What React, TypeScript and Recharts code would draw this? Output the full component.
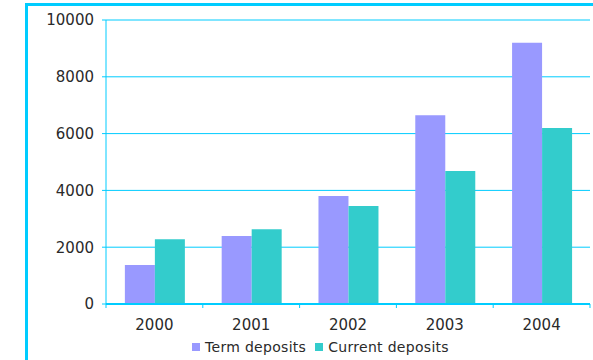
import React from 'react';
import { BarChart, Bar, XAxis, YAxis, CartesianGrid } from 'recharts';

const years = ['2000', '2001', '2002', '2003', '2004'];
const termDeposits = [1370, 2390, 3800, 6650, 9200];
const currentDeposits = [2280, 2630, 3450, 4680, 6200];
const yTicks = [0, 2000, 4000, 6000, 8000, 10000];

const seriesNames = ['Term deposits', 'Current deposits'];
const seriesColors = ['#9999FF', '#33CCCC'];

const CYAN = '#00CCFF';
const FONT = '"DejaVu Sans", Verdana, sans-serif';

const data = years.map((year, i) => ({
  year,
  term: termDeposits[i],
  current: currentDeposits[i],
}));

// x tick: label in the middle, tick marks on category boundaries
const XTick = (props: any) => {
  const { x, y, payload, index, width, visibleTicksCount } = props;
  const half = width && visibleTicksCount ? width / visibleTicksCount / 2 : payload.offset || 0;
  return (
    <g>
      <line x1={x - half} x2={x - half} y1={y} y2={y + 4} stroke={CYAN} strokeWidth={1} />
      {index === visibleTicksCount - 1 && (
        <line x1={x + half} x2={x + half} y1={y} y2={y + 4} stroke={CYAN} strokeWidth={1} />
      )}
      <text x={x} y={y + 26} textAnchor="middle" fill="#2a2a2a" fontSize={15} fontFamily={FONT}>
        {payload.value}
      </text>
    </g>
  );
};

export default function App() {
  return (
    <div
      style={{
        position: 'absolute',
        left: 0,
        top: 0,
        width: 593,
        height: 360,
        overflow: 'hidden',
        background: '#fff',
      }}
    >
      {/* outer frame */}
      <div
        style={{
          position: 'absolute',
          left: 25,
          top: 3,
          width: 700,
          height: 500,
          border: `3px solid ${CYAN}`,
          boxSizing: 'border-box',
        }}
      />
      <div style={{ position: 'absolute', left: 0, top: 0 }}>
        <BarChart
          width={593}
          height={360}
          data={data}
          margin={{ top: 20, right: 3, left: 0, bottom: 0 }}
          barCategoryGap="19.5%"
          barGap={0}
        >
          <CartesianGrid vertical={false} stroke={CYAN} strokeWidth={1} />
          <XAxis
            dataKey="year"
            height={56}
            axisLine={{ stroke: CYAN, strokeWidth: 2 }}
            tickLine={false}
            tickSize={0}
            tickMargin={0}
            interval={0}
            tick={<XTick />}
          />
          <YAxis
            width={106}
            domain={[0, 10000]}
            ticks={yTicks}
            interval={0}
            axisLine={{ stroke: CYAN }}
            tickLine={{ stroke: CYAN }}
            tickSize={4}
            tickMargin={8}
            tick={{ fill: '#2a2a2a', fontSize: 15, fontFamily: FONT }}
          />
          <YAxis
            yAxisId="right"
            orientation="right"
            width={0}
            tick={false}
            tickLine={false}
            axisLine={{ stroke: CYAN }}
          />
          <Bar dataKey="term" name={seriesNames[0]} fill={seriesColors[0]} isAnimationActive={false} />
          <Bar dataKey="current" name={seriesNames[1]} fill={seriesColors[1]} isAnimationActive={false} />
        </BarChart>
      </div>
      {/* legend */}
      <div
        style={{
          position: 'absolute',
          left: 192,
          top: 339,
          display: 'flex',
          alignItems: 'center',
          fontFamily: FONT,
          fontSize: 14,
          letterSpacing: 0.3,
          color: '#2a2a2a',
          whiteSpace: 'nowrap',
        }}
      >
        {seriesNames.map((name, i) => (
          <div key={name} style={{ display: 'flex', alignItems: 'center', marginRight: 9 }}>
            <span
              style={{
                display: 'inline-block',
                width: 8,
                height: 8,
                background: seriesColors[i],
                marginRight: 5,
              }}
            />
            <span>{name}</span>
          </div>
        ))}
      </div>
    </div>
  );
}
